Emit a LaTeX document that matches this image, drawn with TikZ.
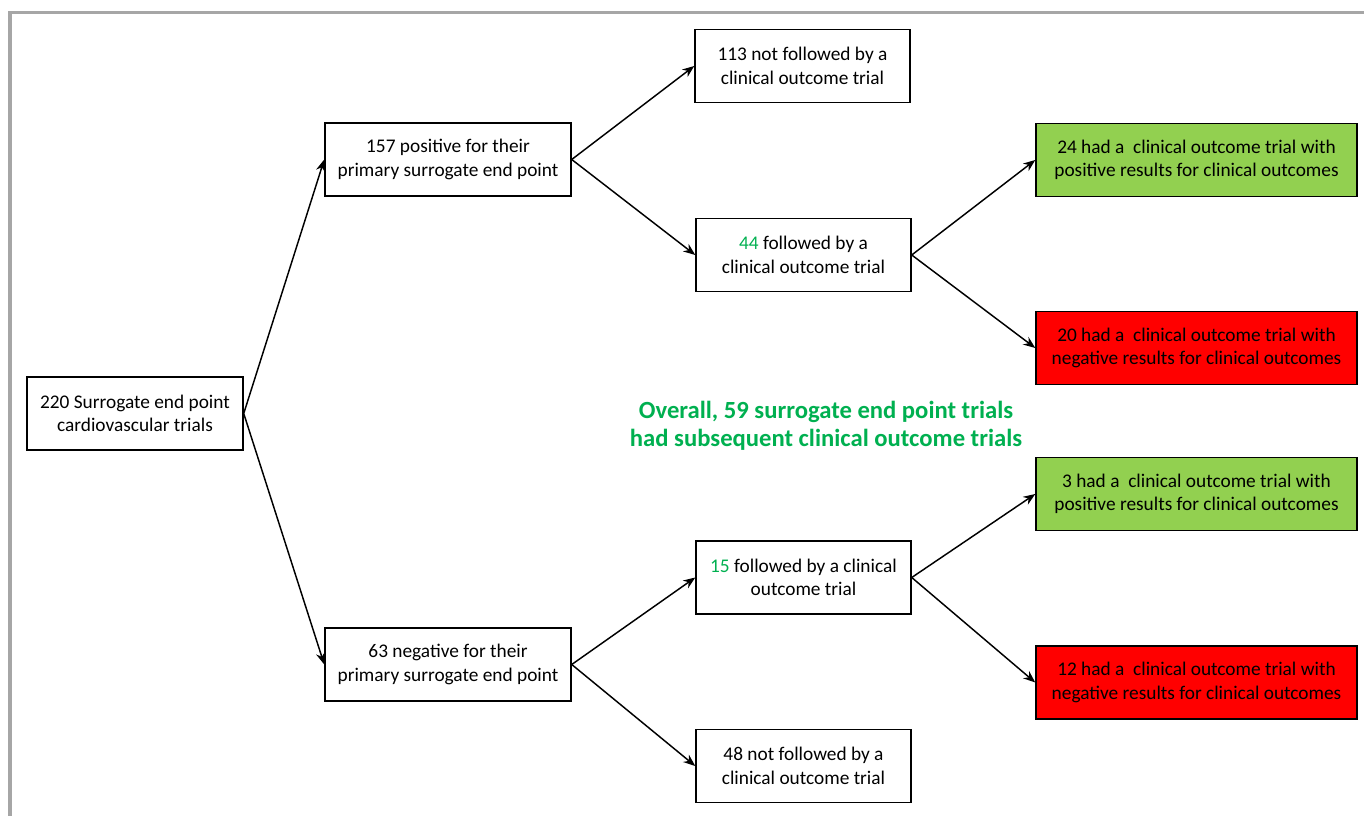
\documentclass[tikz,border=0pt]{standalone}
\usepackage{fontspec}
\setmainfont{Carlito}
\usetikzlibrary{arrows.meta}
\definecolor{boxgreen}{HTML}{92D050}
\definecolor{boxred}{HTML}{FF0000}
\definecolor{txtgreen}{HTML}{00B050}
\definecolor{framegray}{HTML}{A6A6A6}
\begin{document}
\begin{tikzpicture}[x=0.75pt,y=-0.75pt,
  box/.style={draw=black,line width=1.1pt,rectangle,inner sep=0pt,align=center,
    font=\fontsize{14.5}{17.5}\selectfont,minimum height={73*0.75pt}},
  wsmall/.style={minimum width={215*0.75pt}},
  wmid/.style={minimum width={246*0.75pt}},
  wbig/.style={minimum width={321*0.75pt}},
  wstart/.style={minimum width={216*0.75pt}},
  posbox/.style={fill=boxgreen},
  negbox/.style={fill=boxred},
  arr/.style={draw=black,line width=1.1pt,-{Stealth[length=9pt,width=7pt]}},
  summary/.style={align=center,text=txtgreen,font=\bfseries\fontsize{18.5}{21}\selectfont,inner sep=0pt}
]
\useasboundingbox (0,0) rectangle (1364,816);
\draw[framegray,line width=2.4pt] (1364,12.5) -- (10,12.5) -- (10,816);

\node[box,wstart] (A) at (135,413.5) {220 Surrogate end point\\cardiovascular trials};
\node[box,wmid] (B) at (448,159.5) {157 positive for their\\primary surrogate end point};
\node[box,wmid] (J) at (448,664.5) {63 negative for their\\primary surrogate end point};
\node[box,wsmall] (C) at (802.5,66) {113 not followed by a\\clinical outcome trial};
\node[box,wsmall] (D) at (803.5,255) {\textcolor{txtgreen}{44} followed by a\\clinical outcome trial};
\node[box,wsmall] (H) at (803.5,577.5) {\textcolor{txtgreen}{15} followed by a clinical\\outcome trial};
\node[box,wsmall] (K) at (803.5,766) {48 not followed by a\\clinical outcome trial};
\node[box,wbig,posbox] (E) at (1196.5,160) {24 had a\ \ clinical outcome trial with\\positive results for clinical outcomes};
\node[box,wbig,negbox] (F) at (1196.5,348) {20 had a\ \ clinical outcome trial with\\negative results for clinical outcomes};
\node[box,wbig,posbox] (G) at (1196.5,494) {3 had a\ \ clinical outcome trial with\\positive results for clinical outcomes};
\node[box,wbig,negbox] (I) at (1196.5,682.5) {12 had a\ \ clinical outcome trial with\\negative results for clinical outcomes};

\node[summary] (S) at (826,426) {Overall, 59 surrogate end point trials\\had subsequent clinical outcome trials};

\draw[arr] (A.east) -- (B.west);
\draw[arr] (A.east) -- (J.west);
\draw[arr] (B.east) -- (C.west);
\draw[arr] (B.east) -- (D.west);
\draw[arr] (J.east) -- (H.west);
\draw[arr] (J.east) -- (K.west);
\draw[arr] (D.east) -- (E.west);
\draw[arr] (D.east) -- (F.west);
\draw[arr] (H.east) -- (G.west);
\draw[arr] (H.east) -- (I.west);
\end{tikzpicture}
\end{document}
